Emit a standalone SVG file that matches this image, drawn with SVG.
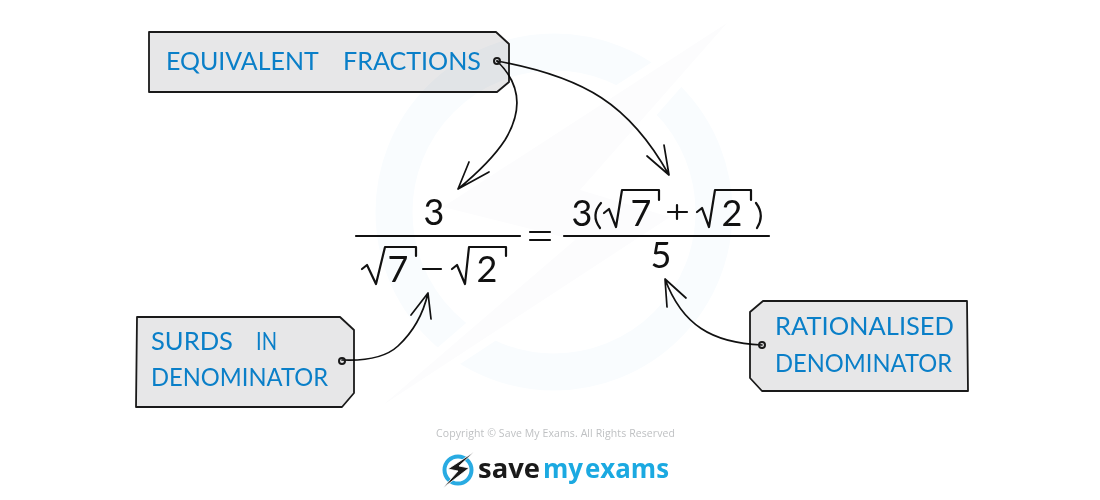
<svg xmlns="http://www.w3.org/2000/svg" width="1100" height="500" viewBox="0 0 1100 500">
<style>
.tag{fill:#e7e7e8;stroke:#1a1a1a;stroke-width:1.8;stroke-linejoin:round;mix-blend-mode:multiply}
.hole{fill:none;stroke:#1a1a1a;stroke-width:2}
.lab{font-family:"Lato","Open Sans",sans-serif;font-size:25px;font-weight:400;fill:#0a7fc8}
.con{fill:none;stroke:#111;stroke-width:1.7;stroke-linecap:round;stroke-linejoin:round}
.m{fill:none;stroke:#111;stroke-width:2.2;stroke-linecap:round;stroke-linejoin:round}
.d{font-family:"Lato","Open Sans",sans-serif;font-size:36px;font-weight:400;fill:#111;text-anchor:middle}
</style>
<g id="watermark">
<circle cx="554" cy="212" r="160" fill="none" stroke="#f9fcfe" stroke-width="37"/>
<path d="M727 23L443 207L575 240L383 405L670 217L580 190Z" fill="#fff" stroke="#fff" stroke-width="16" stroke-linejoin="miter"/>
<path d="M727 23L443 207L575 240L383 405L670 217L580 190Z" fill="#fcfcfd"/>
</g>
<g id="connectors">
<path class="con" d="M497 61C522 85 522 112 505 140C492 160 475 175 458 189M469 162L458 189L489 172"/>
<path class="con" d="M497 61C585 77 630 105 669 175M664 145L669 175L647 156"/>
<path class="con" d="M342 360C365 361 385 358 398 346C412 333 423 315 428 293M411 315L428 293L431 319"/>
<path class="con" d="M762 345C712 343 682 325 665 279M667 307L665 279L686 298"/>
</g>
<g id="tag-equivalent">
<path class="tag" d="M149 32H496L509 44V82L497 92H149Z"/>
<circle class="hole" cx="497" cy="61" r="3"/>
<text class="lab" y="70"><tspan x="166" textLength="152" lengthAdjust="spacingAndGlyphs">EQUIVALENT</tspan> <tspan x="343" textLength="138" lengthAdjust="spacingAndGlyphs">FRACTIONS</tspan></text>
</g>
<g id="tag-surds">
<path class="tag" d="M137 317H340L354 330V393L342 407H136Z"/>
<circle class="hole" cx="342" cy="361" r="3"/>
<text class="lab" y="350"><tspan x="151" textLength="82" lengthAdjust="spacingAndGlyphs">SURDS</tspan> <tspan x="256" textLength="21" lengthAdjust="spacingAndGlyphs">IN</tspan></text>
<text class="lab" x="151" y="386" textLength="177" lengthAdjust="spacingAndGlyphs">DENOMINATOR</text>
</g>
<g id="tag-rationalised">
<path class="tag" d="M763 301H967L968 391H762L750 378V312Z"/>
<circle class="hole" cx="762" cy="345" r="3"/>
<text class="lab" x="775" y="335" textLength="179" lengthAdjust="spacingAndGlyphs">RATIONALISED</text>
<text class="lab" x="775" y="372" textLength="177" lengthAdjust="spacingAndGlyphs">DENOMINATOR</text>
</g>
<g id="equation">
<text class="d" x="434" y="225">3</text>
<path class="m" d="M356 236H520M530 232H550M530 240H550M564 236H769"/>
<path class="m" d="M362 269L367 265L376 284L385 247H416V256"/>
<text class="d" x="398" y="282">7</text>
<path class="m" d="M423 269H441"/>
<path class="m" d="M452 269L457 265L465 284L469 247H506V256"/>
<text class="d" x="487" y="282">2</text>
<text class="d" x="582" y="226">3</text>
<path class="m" d="M601 203C594 211 594 220 600 228"/>
<path class="m" d="M604 213L609 209L616 227L622 190H659V200"/>
<text class="d" x="641" y="226">7</text>
<path class="m" d="M668 212H687M677 205V219"/>
<path class="m" d="M697 212L702 208L709 227L715 190H751V200"/>
<text class="d" x="732" y="226">2</text>
<path class="m" d="M756 203C762 211 762 220 757 228"/>
<text class="d" x="661" y="268">5</text>
</g>
<g id="logo">
<text x="436" y="437" font-family="Open Sans, sans-serif" font-size="10.5" fill="#bfc1c3" textLength="239">Copyright © Save My Exams. All Rights Reserved</text>
<circle cx="458" cy="470" r="13.5" fill="none" stroke="#29abe2" stroke-width="4"/>
<path d="M474 452L448 469L458 471L443 488L469 468L459 466Z" fill="#1a1a1a" stroke="#fff" stroke-width=".8"/>
<text x="478" y="478" font-family="Open Sans, sans-serif" font-size="27" font-weight="700" fill="#1a1a1a" textLength="62" lengthAdjust="spacingAndGlyphs">save</text>
<text x="543" y="478" font-family="Open Sans, sans-serif" font-size="27" font-weight="700" fill="#1ba9e1" word-spacing="-5" textLength="126" lengthAdjust="spacingAndGlyphs">my exams</text>
</g>
</svg>
